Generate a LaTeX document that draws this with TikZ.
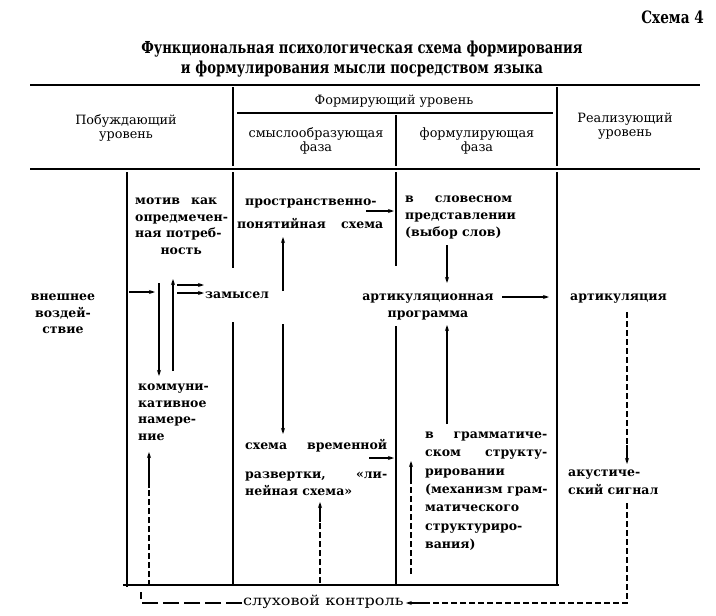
\documentclass[tikz,border=0pt]{standalone}
\usepackage{fontspec}
\setmainfont{DejaVu Serif}
\newfontfamily\condfont[FakeStretch=0.8]{DejaVu Serif}
\usetikzlibrary{arrows.meta}
\newcommand{\tL}[1]{\begin{tabular}[t]{@{}l@{}}#1\end{tabular}}
\newcommand{\tC}[1]{\begin{tabular}[t]{@{}c@{}}#1\end{tabular}}
\newcommand{\js}[2]{\makebox[#1][s]{#2}}
\begin{document}
\begin{tikzpicture}[x=1pt,y=-1pt,
  rule/.style={line width=1.5pt},
  vline/.style={line width=1.6pt},
  arr/.style={line width=1.1pt,-{Stealth[length=6pt,width=4pt]}},
  dline/.style={line width=1.1pt,dash pattern=on 6pt off 3pt},
  ldline/.style={line width=1.1pt,dash pattern=on 16pt off 5pt},
  body/.style={inner sep=0pt,font=\bfseries\fontsize{12.5}{17}\selectfont},
  hdr/.style={inner sep=0pt,font=\fontsize{12.8}{14}\selectfont},
  ttl/.style={inner sep=0pt,font=\condfont\bfseries\fontsize{16.5}{20}\selectfont}]
\useasboundingbox (0,0) rectangle (716,616);

% titles
\node[inner sep=0pt,font=\condfont\bfseries\fontsize{17}{22}\selectfont,anchor=base east] (sch) at (704,23) {Схема 4};
\node[ttl,anchor=base] (title) at (362,53) {\tC{Функциональная психологическая схема формирования\\и формулирования мысли посредством языка}};

% header rules
\draw[rule] (30,85) -- (700,85);
\draw[rule] (30,169) -- (700,169);
\draw[vline] (233,87) -- (233,166);
\draw[vline] (557,87) -- (557,166);
\draw[vline] (396,115) -- (396,166);
\draw[line width=1.2pt] (237,113) -- (553,113);

% header texts
\node[hdr,anchor=base] (h1) at (126,124) {\tC{Побуждающий\\уровень}};
\node[hdr,anchor=base] (h2) at (394,104) {Формирующий уровень};
\node[hdr,anchor=base] (h3) at (316,137) {\tC{смыслообразующая\\фаза}};
\node[hdr,anchor=base] (h4) at (477,137) {\tC{формулирующая\\фаза}};
\node[hdr,anchor=base] (h5) at (625,122) {\tC{Реализующий\\уровень}};

% body lines
\draw[vline] (127,172) -- (127,587);
\draw[vline] (233,172) -- (233,268);
\draw[vline] (233,322) -- (233,585);
\draw[vline] (396,172) -- (396,266);
\draw[vline] (396,326) -- (396,584);
\draw[vline] (557,172) -- (557,585);
\draw[rule] (123,585) -- (559,585);

% body texts
\node[body,anchor=base,font=\bfseries\fontsize{12.5}{16.5}\selectfont] (ext) at (63,300.5) {\tC{внешнее\\воздей-\\ствие}};
\node[body,anchor=base west,font=\bfseries\fontsize{12.5}{16.7}\selectfont] (motiv) at (135,204.5) {\tL{\js{82pt}{мотив как}\\опредмечен-\\ная потреб-\\\makebox[92pt][c]{ность}}};
\node[body,anchor=base west] (zam) at (205,298.5) {замысел};
\node[body,anchor=base west,font=\bfseries\fontsize{12.5}{16.7}\selectfont] (komm) at (138,390.5) {\tL{коммуни-\\кативное\\намере-\\ние}};
\node[body,anchor=base west,font=\bfseries\fontsize{12.5}{23}\selectfont] (prost) at (237,205) {\tL{\hspace*{8pt}\js{137pt}{пространственно-}\\\js{146pt}{понятийная схема}}};
\node[body,anchor=base west] (slov) at (405,202.5) {\tL{\js{107pt}{в словесном}\\представлении\\(выбор слов)}};
\node[body,anchor=base,font=\bfseries\fontsize{12.5}{16.5}\selectfont] (artp) at (428,300.5) {\tC{артикуляционная\\программа}};
\node[body,anchor=base west] (artic) at (570,300.5) {артикуляция};
\node[body,anchor=base west] (vrem) at (245,449.5) {\tL{\js{142pt}{схема временной}\\[12pt]\js{142pt}{развертки, «ли-}\\нейная схема»}};
\node[body,anchor=base west,font=\bfseries\fontsize{12.5}{18.3}\selectfont] (gram) at (425,438.5) {\tL{\js{122pt}{в грамматиче-}\\\js{122pt}{ском структу-}\\рировании\\(механизм грам-\\матического\\структуриро-\\вания)}};
\node[body,anchor=base west,font=\bfseries\fontsize{12.5}{17.5}\selectfont] (acu) at (568,476.5) {\tL{акустиче-\\ский сигнал}};
\node[inner sep=0pt,anchor=base west,font=\fontsize{14}{17}\selectfont] (slux) at (243,605.5) {\scalebox{1.15}[1]{слуховой контроль}};

% arrow end points
\coordinate (e1) at (129,292);  \coordinate (e1b) at (155,292);
\coordinate (m1) at (159,283);  \coordinate (m1b) at (159,376);
\coordinate (m2) at (173,371);  \coordinate (m2b) at (173,279);
\coordinate (z1) at (177,285);  \coordinate (z1b) at (204,285);
\coordinate (z2) at (177,293);  \coordinate (z2b) at (204,293);
\coordinate (p1) at (283,291);  \coordinate (p1b) at (283,237);
\coordinate (p2) at (283,324);  \coordinate (p2b) at (283,434);
\coordinate (s1) at (366,211);  \coordinate (s1b) at (394,211);
\coordinate (s2) at (447,245);  \coordinate (s2b) at (447,283);
\coordinate (a1) at (502,297);  \coordinate (a1b) at (549,297);
\coordinate (g1) at (447,424);  \coordinate (g1b) at (447,325);
\coordinate (v1) at (369,458);  \coordinate (v1b) at (394,458);
\coordinate (v2) at (320,583);  \coordinate (v2m) at (320,522); \coordinate (v2b) at (320,502);
\coordinate (g2) at (411,574);  \coordinate (g2m) at (411,482); \coordinate (g2b) at (411,461);
\coordinate (k1) at (149,586);  \coordinate (k1m) at (149,488); \coordinate (k1b) at (149,452);
\coordinate (r1) at (627,312);  \coordinate (r1m) at (627,445); \coordinate (r1b) at (627,464);
\coordinate (r2) at (627,503);  \coordinate (r2c) at (627,603);
\coordinate (l1c) at (141,603); \coordinate (l1b) at (141,592);

% arrows
\draw[arr] (e1) -- (e1b);
\draw[arr] (m1) -- (m1b);
\draw[arr] (m2) -- (m2b);
\draw[arr] (z1) -- (z1b);
\draw[arr] (z2) -- (z2b);
\draw[arr] (p1) -- (p1b);
\draw[arr] (p2) -- (p2b);
\draw[arr] (s1) -- (s1b);
\draw[arr] (s2) -- (s2b);
\draw[arr] (a1) -- (a1b);
\draw[arr] (g1) -- (g1b);
\draw[arr] (v1) -- (v1b);
\draw[dline] (v2) -- (v2m); \draw[arr] (v2m) -- (v2b);
\draw[dline] (g2) -- (g2m); \draw[arr] (g2m) -- (g2b);
\draw[dline] (k1) -- (k1m); \draw[arr] (k1m) -- (k1b);
\draw[dline] (r1) -- (r1m); \draw[arr] (r1m) -- (r1b);
\draw[dline] (r2) -- (r2c) -- ([xshift=22pt]slux.east |- r2c);
\draw[arr] ([xshift=22pt]slux.east |- r2c) -- ([xshift=2pt]slux.east |- r2c);
\draw[ldline] ([xshift=-1pt]slux.west |- l1c) -- (l1c) -- (l1b);
\end{tikzpicture}
\end{document}
